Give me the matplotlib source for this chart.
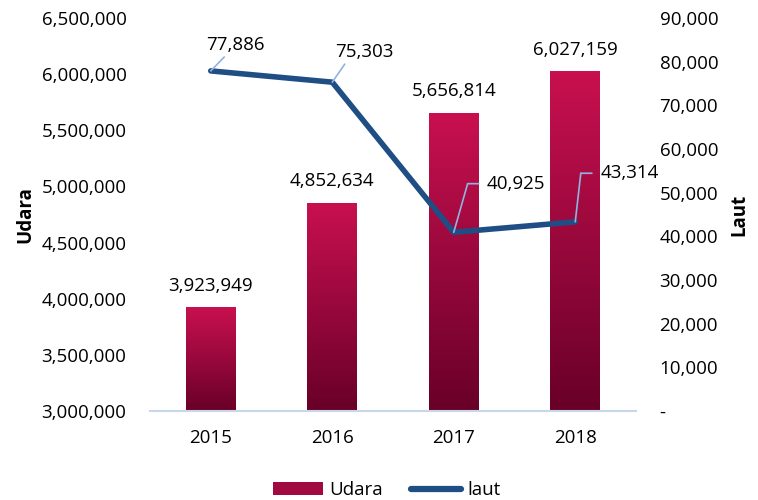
import numpy as np
import matplotlib.pyplot as plt
from matplotlib.colors import LinearSegmentedColormap
from matplotlib.patches import Patch
from matplotlib.lines import Line2D
from matplotlib.ticker import FuncFormatter
from matplotlib.transforms import offset_copy

plt.rcParams['font.family'] = ['Open Sans', 'DejaVu Sans']

years = ['2015', '2016', '2017', '2018']
udara = [3923949, 4852634, 5656814, 6027159]
laut = [77886, 75303, 40925, 43314]

FS = 13.5
fig = plt.figure(figsize=(7.58, 5.0), dpi=100)
ax = fig.add_axes([150 / 758, 89 / 500, 486 / 758, 393 / 500])
ax2 = ax.twinx()

x = np.arange(len(years))
bars = ax.bar(x, udara, width=0.41, color='none', zorder=2)
grad = LinearSegmentedColormap.from_list('g', ['#690028', '#c8104f'])
for b in bars:
    x0, w, h = b.get_x(), b.get_width(), b.get_height()
    im = ax.imshow(np.linspace(0, 1, 100).reshape(-1, 1), cmap=grad, aspect='auto',
                   origin='lower', extent=[x0, x0 + w, 3000000, h], zorder=2)
    im.set_clip_path(b)

ax.set_xlim(-0.5, 3.5)
ax.set_ylim(3000000, 6500000)
ax.set_yticks(np.arange(3000000, 6500001, 500000))
ax.yaxis.set_major_formatter(FuncFormatter(lambda v, p: f'{v:,.0f}'))
ax.set_xticks(x)
ax.set_xticklabels(years)

ax2.set_ylim(0, 90000)
ax2.set_yticks(np.arange(0, 90001, 10000))
ax2.yaxis.set_major_formatter(FuncFormatter(lambda v, p: '-' if v == 0 else f'{v:,.0f}'))
ax2.plot(x, laut, color='#1f4e85', lw=4, solid_capstyle='round', solid_joinstyle='round', zorder=3)

for a in (ax, ax2):
    for s in a.spines.values():
        s.set_visible(False)
    a.tick_params(length=0, labelsize=FS, colors='#000000')
ax.spines['bottom'].set_visible(True)
ax.spines['bottom'].set_color('#c9d6ea')
ax.spines['bottom'].set_linewidth(1.5)
ax.tick_params(axis='x', pad=13)
ax.tick_params(axis='y', pad=17)
ax2.tick_params(axis='y', pad=17)

ax.set_ylabel('Udara', fontsize=FS, fontweight='bold', labelpad=4)
ax2.set_ylabel('Laut', fontsize=FS, fontweight='bold', labelpad=8)

for xi, v in zip(x, udara):
    ax.annotate(f'{v:,}', (xi, v), xytext=(0, 9), textcoords='offset points',
                ha='center', va='bottom', fontsize=FS, zorder=4)

lead = '#8fb4e3'
lkw = dict(arrowstyle='-', color=lead, lw=1.2, shrinkA=0, shrinkB=0)

# first two labels: short diagonal leader
for i, (dx, dy, rp) in enumerate([(18, 12, 0.35), (23, 15, 0.2)]):
    ax2.annotate(f'{laut[i]:,}', (x[i], laut[i]), xytext=(dx, dy), textcoords='offset points',
                 ha='center', va='bottom', fontsize=FS,
                 arrowprops=dict(lkw, relpos=(rp, 0)))

# last two labels: elbow leader (diagonal up, then horizontal)
for i, kx, ex, tx in [(2, 10, 18, 24), (3, 4, 12, 18)]:
    ax2.annotate('', (x[i], laut[i]), xytext=(kx, 35), textcoords='offset points', arrowprops=lkw)
    knee = offset_copy(ax2.transData, fig=fig, x=kx, y=35, units='points')
    end = offset_copy(ax2.transData, fig=fig, x=ex, y=35, units='points')
    ax2.annotate('', (x[i], laut[i]), xycoords=end, xytext=(x[i], laut[i]), textcoords=knee,
                 arrowprops=lkw)
    ax2.annotate(f'{laut[i]:,}', (x[i], laut[i]), xytext=(tx, 35), textcoords='offset points',
                 ha='left', va='center', fontsize=FS)

handles = [Patch(facecolor='#a00a40', edgecolor='none', label='Udara'),
           Line2D([0], [0], color='#1f4e85', lw=4.5, solid_capstyle='round', label='laut')]
fig.legend(handles=handles, loc='lower center', bbox_to_anchor=(0.51, -0.032), ncol=2,
           frameon=False, fontsize=FS, handlelength=2.7, handletextpad=0.3, columnspacing=1.5)

fig.savefig('out.png', dpi=100)
